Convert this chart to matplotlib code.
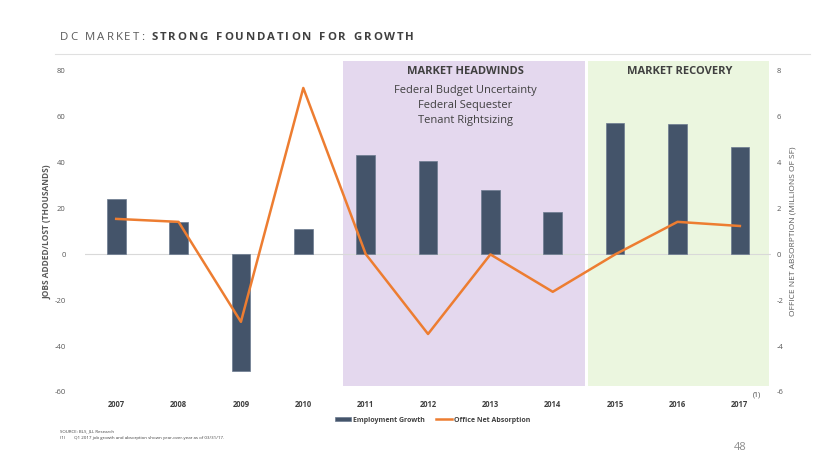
import matplotlib.pyplot as plt
import numpy as np

years = ["2007", "2008", "2009", "2010", "2011", "2012", "2013", "2014", "2015", "2016", "2017"]
jobs = [24.2, 14.2, -50.8, 11.1, 43.4, 40.8, 28.1, 18.5, 57.3, 56.9, 46.9]
absorption = [1.55, 1.42, -2.94, 7.26, 0.02, -3.47, 0.0, -1.63, 0.0, 1.42, 1.24]
headwind_notes = ["Federal Budget Uncertainty", "Federal Sequester", "Tenant Rightsizing"]

plt.rcParams['font.family'] = ['Open Sans', 'DejaVu Sans']
plt.rcParams['axes.unicode_minus'] = False

bar_col = "#44546A"
line_col = "#ED7D31"
txt_col = "#404040"

fig = plt.figure(figsize=(8.3, 4.67), dpi=100)
ax = fig.add_axes([0.1024, 0.1606, 0.8266, 0.6874])
ax2 = ax.twinx()

x = np.arange(len(years))

# shaded periods
ax.axvspan(3.64, 7.51, ymin=0.02, ymax=1.031, color="#E4D8EE", zorder=0, clip_on=False, lw=0)
ax.axvspan(7.56, 10.46, ymin=0.02, ymax=1.031, color="#EBF6DF", zorder=0, clip_on=False, lw=0)

ax.axhline(0, color="#D9D9D9", lw=0.8, zorder=1)
ax.bar(x, jobs, width=0.3, color=bar_col, edgecolor="#6B7A8F", lw=0.5, zorder=2, label="Employment Growth")
ax2.plot(x, absorption, color=line_col, lw=1.8, label="Office Net Absorption")

ax.set_xlim(-0.5, 10.5)
ax.set_ylim(-60, 80)
ax.set_yticks(range(-60, 81, 20))
ax2.set_ylim(-6, 8)
ax2.set_yticks(range(-6, 9, 2))

for a in (ax, ax2):
    for s in a.spines.values():
        s.set_visible(False)
    a.tick_params(length=0, labelsize=5.5, colors="#595959")

ax.set_xticks(x)
ax.set_xticklabels(years, fontweight="bold", fontsize=5.5, color=txt_col)
ax.tick_params(axis="x", pad=6)
ax.tick_params(axis="y", pad=14)
ax2.tick_params(axis="y", pad=4)

ax.set_ylabel("JOBS ADDED/LOST (THOUSANDS)", fontsize=6, fontweight="bold", color="#595959", labelpad=2)
ax2.set_ylabel("OFFICE NET ABSORPTION (MILLIONS OF SF)", fontsize=6, color="#595959", labelpad=4)

# region labels
fig.text(0.5605, 1 - 72 / 467, "MARKET HEADWINDS", ha="center", va="center",
         fontsize=8, fontweight="bold", color=txt_col)
for i, note in enumerate(headwind_notes):
    fig.text(0.5605, 1 - (91 + 14.5 * i) / 467, note, ha="center", va="center", fontsize=8, color=txt_col)
fig.text(0.8193, 1 - 72 / 467, "MARKET RECOVERY", ha="center", va="center",
         fontsize=8, fontweight="bold", color=txt_col)
fig.text(0.912, 1 - 395 / 467, "(1)", ha="center", va="center", fontsize=5, color=txt_col)

# legend
h1, l1 = ax.get_legend_handles_labels()
h2, l2 = ax2.get_legend_handles_labels()
fig.legend(h1 + h2, l1 + l2, loc="center", bbox_to_anchor=(433 / 830, 1 - 420 / 467), ncol=2,
           frameon=False, prop={"size": 5.0, "weight": "bold"}, handlelength=2.3,
           handleheight=0.5, columnspacing=1.6, handletextpad=0.3, labelcolor=txt_col)

# title with letter spacing
fig.canvas.draw()
renderer = fig.canvas.get_renderer()
tx = 60
for part, weight, col in [("DC MARKET: ", "normal", "#595959"), ("STRONG FOUNDATION FOR GROWTH", "bold", "#404040")]:
    for ch in part:
        if ch == " ":
            tx += 6
            continue
        t = fig.text(tx / 830, 1 - 38 / 467, ch, fontsize=8.2, fontweight=weight, color=col,
                     ha="left", va="center")
        w = t.get_window_extent(renderer).width
        tx += w + 1.9

fig.add_artist(plt.Line2D([55 / 830, 810 / 830], [1 - 54 / 467] * 2, transform=fig.transFigure,
                          color="#E0E0E0", lw=0.8))

fig.text(60 / 830, 1 - 431 / 467, "SOURCE: BLS, JLL Research", fontsize=3.2, color=txt_col, va="center")
fig.text(60 / 830, 1 - 438 / 467, "(1)        Q1 2017 job growth and absorption shown year-over-year as of 03/31/17.",
         fontsize=3.2, color=txt_col, va="center")
fig.text(740 / 830, 1 - 447 / 467, "48", fontsize=8, color="#8C8C8C", ha="center", va="center")

fig.savefig("out.png", dpi=100)
